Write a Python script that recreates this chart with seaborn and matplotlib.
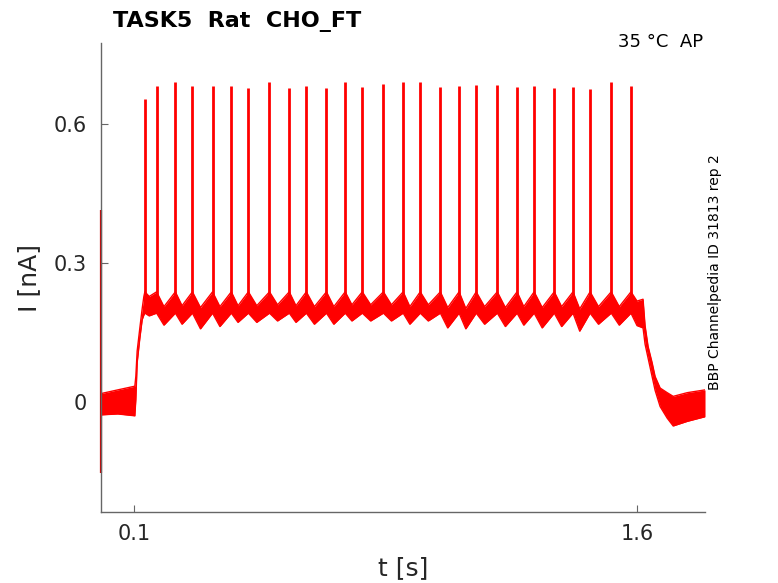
import numpy as np
import pandas as pd
import seaborn as sns
import matplotlib.pyplot as plt

# spike train (times in s, peak current in nA)
spike_t = [0.131, 0.166, 0.222, 0.273, 0.333, 0.389, 0.440, 0.503, 0.562, 0.613,
           0.673, 0.729, 0.780, 0.843, 0.902, 0.953, 1.013, 1.069, 1.120, 1.183,
           1.242, 1.293, 1.353, 1.409, 1.460, 1.523, 1.582]
spike_peak = [0.654, 0.683, 0.691, 0.683, 0.683, 0.683, 0.678, 0.691, 0.678, 0.683,
              0.678, 0.691, 0.681, 0.687, 0.691, 0.691, 0.681, 0.683, 0.685, 0.685,
              0.681, 0.683, 0.678, 0.681, 0.676, 0.691, 0.683]
spike_base_lo = 0.192
spike_base_hi = 0.238

# noise band between spikes (trough of each interval)
trough_t = [0.144, 0.188, 0.242, 0.297, 0.355, 0.409, 0.465, 0.527, 0.582, 0.637,
            0.695, 0.749, 0.805, 0.867, 0.922, 0.977, 1.035, 1.089, 1.145, 1.207,
            1.262, 1.317, 1.375, 1.429, 1.485, 1.547]
trough_lo = [0.186, 0.166, 0.168, 0.158, 0.163, 0.172, 0.172, 0.175, 0.172, 0.168,
             0.168, 0.175, 0.175, 0.175, 0.168, 0.175, 0.160, 0.158, 0.168, 0.163,
             0.166, 0.160, 0.163, 0.153, 0.168, 0.166]
trough_hi = [0.228, 0.206, 0.208, 0.204, 0.206, 0.208, 0.208, 0.210, 0.208, 0.206,
             0.206, 0.210, 0.210, 0.210, 0.206, 0.210, 0.204, 0.202, 0.206, 0.204,
             0.206, 0.204, 0.206, 0.201, 0.206, 0.206]

# holding level and step onset
pre_t = [0.000, 0.050, 0.101, 0.104, 0.108, 0.116, 0.123, 0.128]
pre_lo = [-0.028, -0.026, -0.030, 0.005, 0.085, 0.138, 0.178, 0.188]
pre_hi = [0.018, 0.026, 0.034, 0.055, 0.110, 0.160, 0.202, 0.228]

# step offset and return to holding level
post_t = [1.600, 1.618, 1.624, 1.633, 1.645, 1.654, 1.669, 1.690, 1.708, 1.750, 1.803]
post_lo = [0.165, 0.160, 0.125, 0.095, 0.055, 0.025, -0.010, -0.035, -0.052, -0.042, -0.032]
post_hi = [0.218, 0.222, 0.165, 0.120, 0.085, 0.055, 0.030, 0.020, 0.012, 0.020, 0.026]

# capacitive transient at t = 0
transient_t = 0.0
transient_lo = -0.153
transient_hi = 0.414

band = pd.concat([
    pd.DataFrame({'t': pre_t, 'lo': pre_lo, 'hi': pre_hi}),
    pd.DataFrame({'t': spike_t, 'lo': spike_base_lo, 'hi': spike_base_hi}),
    pd.DataFrame({'t': trough_t, 'lo': trough_lo, 'hi': trough_hi}),
    pd.DataFrame({'t': post_t, 'lo': post_lo, 'hi': post_hi}),
]).sort_values('t').reset_index(drop=True)

sns.set_theme(style="white")
plt.rcParams['font.family'] = ['DejaVu Sans']

red = '#ff0000'
fig = plt.figure(figsize=(7.78, 5.83), dpi=100)
ax = fig.add_axes([0.1298, 0.1218, 0.7764, 0.8044])

ax.fill_between(band['t'], band['lo'], band['hi'], color=red, lw=0)
sns.lineplot(data=band, x='t', y='lo', ax=ax, color=red, lw=1.0, sort=False, estimator=None)
sns.lineplot(data=band, x='t', y='hi', ax=ax, color=red, lw=1.0, sort=False, estimator=None)
ax.vlines(spike_t, spike_base_lo, spike_peak, color=red, lw=2.0)
ax.vlines([transient_t], transient_lo, transient_hi, color='#cc0000', lw=1.6,
          clip_on=False, zorder=1)

ax.set_xlim(0, 1.803)
ax.set_ylim(-0.238, 0.776)
ax.set_xticks([0.1, 1.6])
ax.set_xticklabels(['0.1', '1.6'])
ax.set_yticks([0, 0.3, 0.6])
ax.set_yticklabels(['0', '0.3', '0.6'])

for side in ['top', 'right']:
    ax.spines[side].set_visible(False)
for side in ['left', 'bottom']:
    ax.spines[side].set_color('#666666')
    ax.spines[side].set_linewidth(1.0)
    ax.spines[side].set_zorder(3)
ax.tick_params(bottom=True, left=True, direction='in', length=5, width=0.8,
               color='#666666', labelsize=15, labelcolor='#262626', pad=10)
ax.tick_params(axis='x', pad=9)

ax.set_xlabel('t [s]', fontsize=18, color='#262626', labelpad=8)
ax.set_ylabel('I [nA]', fontsize=18, color='#262626', labelpad=9)

fig.text(113 / 778, 1 - 27 / 583, 'TASK5  Rat  CHO_FT', fontsize=16,
         fontweight='bold', color='black', ha='left', va='baseline')
fig.text(703 / 778, 1 - 47 / 583, '35 °C  AP', fontsize=13,
         color='black', ha='right', va='baseline')
fig.text(715 / 778, 1 - 272 / 583, 'BBP Channelpedia ID 31813 rep 2', fontsize=10,
         color='black', rotation=90, ha='center', va='center')

fig.savefig('out.png', dpi=100)
